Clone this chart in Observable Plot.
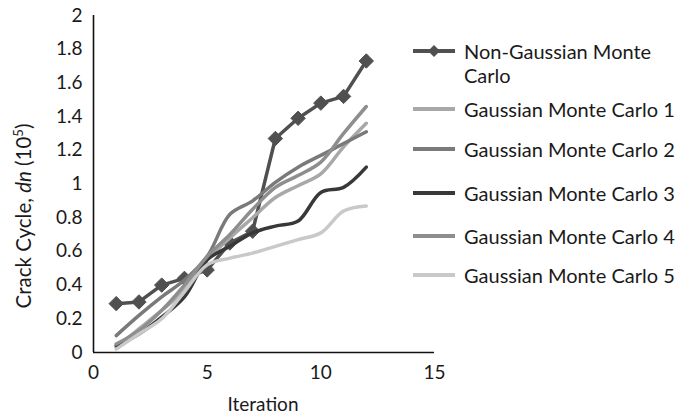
<!DOCTYPE html>
<html>
<head>
<meta charset="utf-8">
<script src="https://cdn.jsdelivr.net/npm/d3@7"></script>
<script src="https://cdn.jsdelivr.net/npm/@observablehq/plot@0.6"></script>
<style>
  html, body { margin: 0; padding: 0; background: #fff; }
  #wrap { position: relative; width: 686px; height: 416px; font-family: Lato, sans-serif; color: #1a1a1a; }
  #wrap svg.plot { position: absolute; left: 0; top: 0; }
  .leg { position: absolute; left: 412px; display: flex; align-items: flex-start; font-size: 20px; line-height: 24px; }
  .leg svg { width: 44px; height: 24px; flex: none; }
  .leg span { margin-left: 8px; white-space: nowrap; }
</style>
</head>
<body>
<div id="wrap"></div>
<script>
const iterations = [1, 2, 3, 4, 5, 6, 7, 8, 9, 10, 11, 12];
const seriesNames = ["Non-Gaussian Monte Carlo", "Gaussian Monte Carlo 1", "Gaussian Monte Carlo 2", "Gaussian Monte Carlo 3", "Gaussian Monte Carlo 4", "Gaussian Monte Carlo 5"];
const nonGaussian = [0.29, 0.30, 0.40, 0.44, 0.49, 0.65, 0.72, 1.27, 1.39, 1.48, 1.52, 1.73];
const gaussian1 = [0.03, 0.14, 0.25, 0.37, 0.55, 0.68, 0.80, 0.92, 0.99, 1.06, 1.22, 1.36];
const gaussian2 = [0.10, 0.22, 0.33, 0.43, 0.57, 0.82, 0.90, 1.01, 1.10, 1.17, 1.24, 1.31];
const gaussian3 = [0.04, 0.11, 0.21, 0.33, 0.55, 0.63, 0.71, 0.75, 0.78, 0.95, 0.98, 1.10];
const gaussian4 = [0.05, 0.13, 0.25, 0.40, 0.57, 0.70, 0.85, 0.98, 1.05, 1.13, 1.30, 1.46];
const gaussian5 = [0.02, 0.11, 0.20, 0.36, 0.52, 0.56, 0.59, 0.63, 0.67, 0.71, 0.84, 0.87];
const xTicks = [0, 5, 10, 15];
const yTicks = [0, 0.2, 0.4, 0.6, 0.8, 1, 1.2, 1.4, 1.6, 1.8, 2];
const colors = ["#505050", "#a8a8a8", "#7a7a7a", "#383838", "#8e8e8e", "#c9c9c9"];

const seriesValues = [nonGaussian, gaussian1, gaussian2, gaussian3, gaussian4, gaussian5];
const toRows = (vals, name) => iterations.map((it, i) => ({iteration: it, value: vals[i], series: name}));
const ngRows = toRows(nonGaussian, seriesNames[0]);
const gaussRows = seriesValues.slice(1).map((v, k) => toRows(v, seriesNames[k + 1]));

const marks = [];
// Non-Gaussian series first (Excel series order), Gaussian lines drawn over it
marks.push(Plot.line(ngRows, {x: "iteration", y: "value", stroke: colors[0], strokeWidth: 3.5}));
marks.push(Plot.dot(ngRows, {x: "iteration", y: "value", symbol: "diamond2", r: 6.5, fill: colors[0], stroke: colors[0], strokeWidth: 1}));
gaussRows.forEach((rows, k) => {
  marks.push(Plot.line(rows, {x: "iteration", y: "value", stroke: colors[k + 1], strokeWidth: 3.5, curve: "catmull-rom"}));
});
marks.push(Plot.ruleY([0], {stroke: "#111", strokeWidth: 1.6}));
marks.push(Plot.ruleX([0], {stroke: "#111", strokeWidth: 1.6}));

const plot = Plot.plot({
  width: 450,
  height: 416,
  marginLeft: 93,
  marginRight: 16,
  marginTop: 15,
  marginBottom: 64,
  style: {fontFamily: "Lato, sans-serif", fontSize: "19px", color: "#1a1a1a", background: "transparent", overflow: "visible"},
  x: {domain: [0, 15], ticks: xTicks, tickSize: 0, tickPadding: 13, label: null},
  y: {domain: [0, 2], ticks: yTicks, tickSize: 0, tickPadding: 11, tickFormat: d3.format("~g"), label: null},
  marks
});
plot.classList.add("plot");
document.getElementById("wrap").appendChild(plot);

// Axis titles
const svg = d3.select(plot);
svg.append("text")
  .attr("x", 263).attr("y", 411)
  .attr("text-anchor", "middle")
  .attr("font-size", 19)
  .attr("fill", "#1a1a1a")
  .text("Iteration");
const yt = svg.append("text")
  .attr("transform", "translate(31,216) rotate(-90)")
  .attr("text-anchor", "middle")
  .attr("font-size", 20.5)
  .attr("fill", "#1a1a1a");
yt.append("tspan").text("Crack Cycle, ");
yt.append("tspan").attr("font-style", "italic").text("dn");
yt.append("tspan").text(" (10");
yt.append("tspan").attr("font-size", 13).attr("dy", -8).text("5");
yt.append("tspan").attr("dy", 8).text(")");

// Legend
const legendTops = [39, 97, 137, 181, 224, 263];
const legendLabels = ["Non-Gaussian Monte<br>Carlo", seriesNames[1], seriesNames[2], seriesNames[3], seriesNames[4], seriesNames[5]];
const wrap = document.getElementById("wrap");
legendLabels.forEach((lab, i) => {
  const d = document.createElement("div");
  d.className = "leg";
  d.style.top = legendTops[i] + "px";
  let sw = `<svg viewBox="0 0 44 24"><line x1="1" y1="12" x2="43" y2="12" stroke="${colors[i]}" stroke-width="4"/>`;
  if (i === 0) sw += `<path d="M22 6 L28 12 L22 18 L16 12 Z" fill="${colors[0]}"/>`;
  sw += `</svg>`;
  d.innerHTML = sw + `<span>${lab}</span>`;
  wrap.appendChild(d);
});
</script>
</body>
</html>
